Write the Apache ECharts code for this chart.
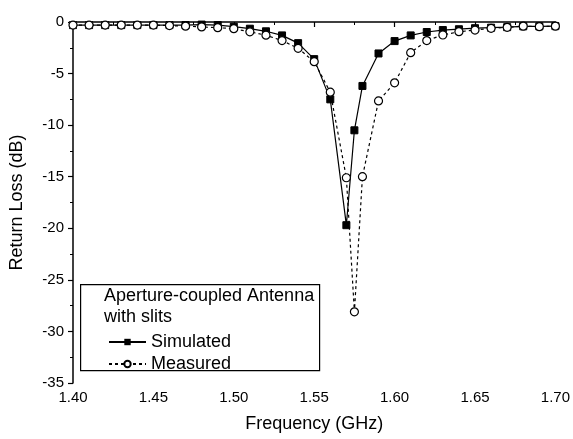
<!DOCTYPE html>
<html>
<head>
<meta charset="utf-8">
<script src="https://cdn.jsdelivr.net/npm/echarts@6/dist/echarts.min.js"></script>
<style>html,body{margin:0;padding:0;background:#fff}#c{width:573px;height:439px}</style>
</head>
<body>
<div id="c"></div>
<script>
var simFreq = [1.40,1.41,1.42,1.43,1.44,1.45,1.46,1.47,1.48,1.49,1.50,1.51,1.52,1.53,1.54,1.55,1.56,1.57,1.575,1.58,1.59,1.60,1.61,1.62,1.63,1.64,1.65,1.66,1.67,1.68,1.69,1.70];
var simValues = [-0.3,-0.3,-0.3,-0.3,-0.3,-0.3,-0.3,-0.3,-0.25,-0.3,-0.45,-0.65,-0.9,-1.3,-2.05,-3.6,-7.5,-19.7,-10.5,-6.2,-3.05,-1.85,-1.3,-0.97,-0.78,-0.7,-0.6,-0.55,-0.5,-0.42,-0.42,-0.4];
var measFreq = [1.40,1.41,1.42,1.43,1.44,1.45,1.46,1.47,1.48,1.49,1.50,1.51,1.52,1.53,1.54,1.55,1.56,1.57,1.575,1.58,1.59,1.60,1.61,1.62,1.63,1.64,1.65,1.66,1.67,1.68,1.69,1.70];
var measValues = [-0.3,-0.3,-0.3,-0.3,-0.3,-0.3,-0.35,-0.4,-0.48,-0.55,-0.65,-0.95,-1.28,-1.8,-2.55,-3.85,-6.8,-15.1,-28.1,-15.0,-7.65,-5.9,-2.97,-1.8,-1.26,-0.94,-0.78,-0.61,-0.52,-0.4,-0.45,-0.4];
var xTicks = [1.40,1.45,1.50,1.55,1.60,1.65,1.70];
var yTicks = [0,-5,-10,-15,-20,-25,-30,-35];
var legendTitle = ['Aperture-coupled Antenna', 'with slits'];
var seriesNames = ['Simulated', 'Measured'];

function pairs(xs, ys){ return xs.map(function(x,i){ return [x, ys[i]]; }); }

var chart = echarts.init(document.getElementById('c'), null, {renderer:'canvas'});
var font = 'Liberation Sans, Arial, sans-serif';
chart.setOption({
  animation:false,
  backgroundColor:'#fff',
  grid:{left:72,right:16,top:22,bottom:56},
  xAxis:{
    type:'value', min:xTicks[0], max:xTicks[xTicks.length-1], interval:0.05,
    name:'Frequency (GHz)', nameLocation:'middle', nameGap:32,
    nameTextStyle:{color:'#000',fontSize:18,fontFamily:font},
    axisLine:{lineStyle:{color:'#000',width:1.5}},
    axisTick:{show:true,length:5,lineStyle:{color:'#000',width:1.2}},
    minorTick:{show:true,splitNumber:2,length:3,lineStyle:{color:'#000'}},
    axisLabel:{color:'#000',fontSize:15,fontFamily:font,margin:7,formatter:function(v){return v.toFixed(2);}},
    splitLine:{show:false}
  },
  yAxis:{
    type:'value', min:yTicks[yTicks.length-1], max:yTicks[0], interval:5,
    name:'Return Loss (dB)', nameLocation:'middle', nameGap:47,
    nameTextStyle:{color:'#000',fontSize:18,fontFamily:font},
    axisLine:{show:true,lineStyle:{color:'#000',width:1.5}},
    axisTick:{show:true,length:5,lineStyle:{color:'#000',width:1.2}},
    minorTick:{show:true,splitNumber:2,length:3,lineStyle:{color:'#000'}},
    axisLabel:{color:'#000',fontSize:15,fontFamily:font,margin:9},
    splitLine:{show:false}
  },
  legend:{
    left:103, top:328, orient:'vertical', itemGap:4, itemWidth:37, itemHeight:8, z:20,
    textStyle:{color:'#000',fontSize:18,fontFamily:font},
    data:seriesNames
  },
  graphic:[
    {type:'rect',left:80,top:284,z:10,shape:{width:239,height:86},style:{fill:'#fff',stroke:'#000',lineWidth:1.2}},
    {type:'text',left:104,top:287,z:11,style:{text:legendTitle[0],fill:'#000',font:'18px '+font}},
    {type:'text',left:104,top:308,z:11,style:{text:legendTitle[1],fill:'#000',font:'18px '+font}}
  ],
  series:[
    {name:seriesNames[0],type:'line',data:pairs(simFreq,simValues),symbol:'rect',symbolSize:7,
     lineStyle:{color:'#000',width:1.2,type:'solid'},itemStyle:{color:'#000',borderColor:'#000'},z:3},
    {name:seriesNames[1],type:'line',data:pairs(measFreq,measValues),symbol:'circle',symbolSize:8,
     lineStyle:{color:'#000',width:1.2,type:[3,3]},itemStyle:{color:'#fff',borderColor:'#000',borderWidth:1.2},z:4}
  ]
});
</script>
</body>
</html>
